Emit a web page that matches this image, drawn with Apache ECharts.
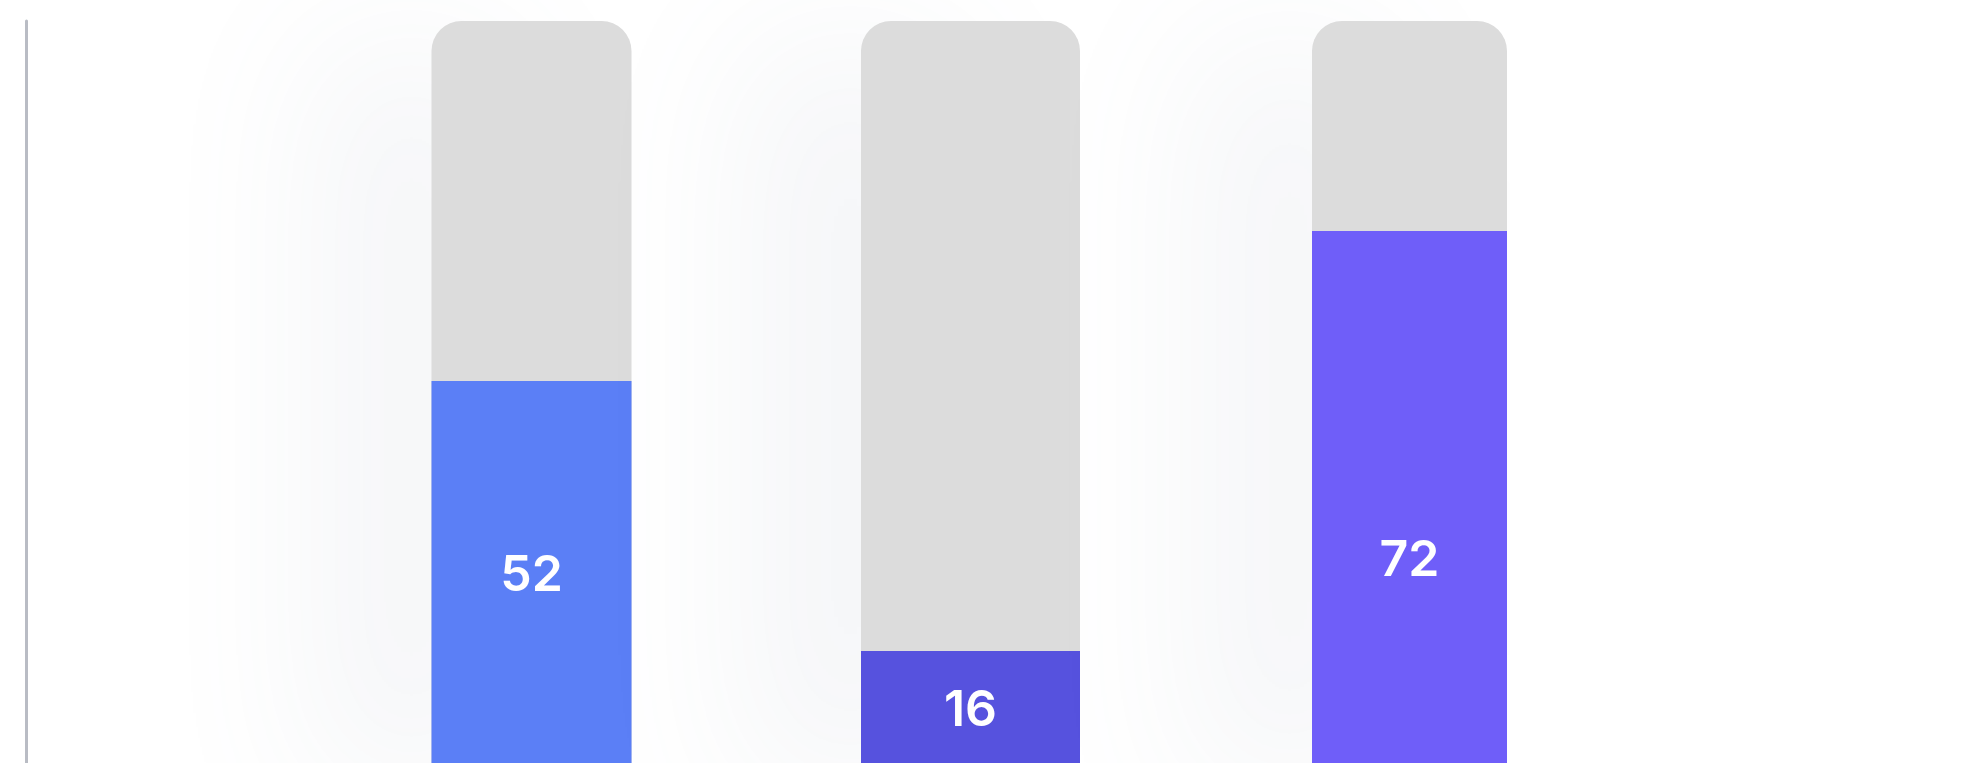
<!DOCTYPE html>
<html>
<head>
<meta charset="utf-8">
<style>
	html, body { margin: 0; padding: 0; background: #fff; }
	#main { width: 1973px; height: 763px; }
</style>
<script src="https://cdn.jsdelivr.net/npm/echarts@6/dist/echarts.min.js"></script>
</head>
<body>
<div id="main"></div>
<script>
// 数据
var categories = ['A', 'B', 'C'];
var values = [52, 16, 72];
var maxValue = 100;

// 样式
var barColors = ['#5b7ff6', '#5652de', '#6f5ef9'];
var barWidths = [200, 219, 195];
var labelShift = [0, 0, 60];

var myChart = echarts.init(document.getElementById('main'));

var renderBar = function(params, api){
	var i = api.value(0);
	var v = api.value(1);
	var w = barWidths[i];
	var top = api.coord([i, maxValue]);
	var base = api.coord([i, 0]);
	var pt = api.coord([i, v]);
	var x = base[0] - w / 2;
	return {
		type: 'group',
		children: [
			{
				type: 'rect',
				shape: { x: x, y: top[1], width: w, height: base[1] - top[1], r: [30, 30, 0, 0] },
				style: {
					fill: '#dcdcdc',
					shadowBlur: 160,
					shadowOffsetX: -120,
					shadowOffsetY: 20,
					shadowColor: 'rgba(120,130,160,0.07)'
				}
			},
			{
				type: 'rect',
				shape: { x: x, y: pt[1], width: w, height: base[1] - pt[1] },
				style: { fill: barColors[i] }
			},
			{
				type: 'text',
				style: {
					text: String(v),
					x: base[0],
					y: (pt[1] + base[1]) / 2 + labelShift[i],
					fill: '#fff',
					font: '600 50px Inter, "Noto Sans", sans-serif',
					align: 'center',
					verticalAlign: 'middle',
					textAlign: 'center',
					textVerticalAlign: 'middle'
				}
			}
		]
	};
};

var option = {
	animation: false,
	grid: { left: 312, top: 21, width: 1317, height: 750, outerBoundsMode: 'none' },
	xAxis: {
		type: 'category',
		data: categories,
		show: false
	},
	yAxis: {
		type: 'value',
		min: 0,
		max: maxValue,
		offset: 286,
		axisLine: { show: true, lineStyle: { color: '#b9bcc4', width: 3 } },
		axisTick: { show: false },
		axisLabel: { show: false },
		splitLine: { show: false }
	},
	series: [{
		type: 'custom',
		renderItem: renderBar,
		data: values.map(function(v, i){ return [i, v]; })
	}]
};

myChart.setOption(option);
</script>
</body>
</html>
